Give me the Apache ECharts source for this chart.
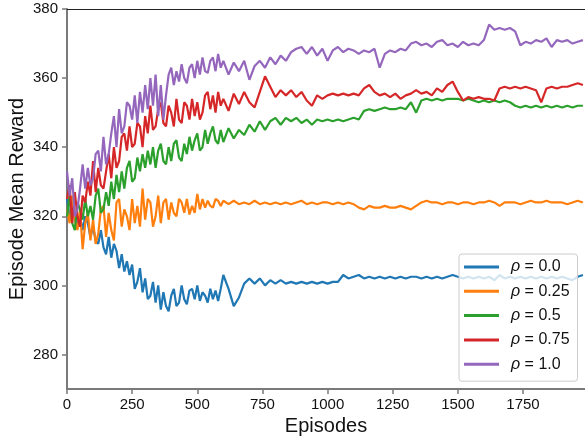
<!DOCTYPE html>
<html>
<head>
<meta charset="utf-8">
<script src="https://cdn.jsdelivr.net/npm/echarts@6/dist/echarts.min.js"></script>
<style>
html, body { margin: 0; padding: 0; background: #fff; }
#chart { width: 585px; height: 441px; }
</style>
</head>
<body>
<div id="chart"></div>
<script>
// episodes: every 10 up to 590 (noisy start), then every 20
var episodes = [];
for (var e = 0; e < 600; e += 10) episodes.push(e);
for (var e2 = 600; e2 <= 1980; e2 += 20) episodes.push(e2);

var rhoNames = ['ρ = 0.0', 'ρ = 0.25', 'ρ = 0.5', 'ρ = 0.75', 'ρ = 1.0'];
var colors = ['#1f77b4', '#ff7f0e', '#2ca02c', '#d62728', '#9467bd'];
var xTicks = [0, 250, 500, 750, 1000, 1250, 1500, 1750];
var yTicks = [280, 300, 320, 340, 360, 380];

var rho00 = [
    // 0..590 step 10
    325, 320, 322, 321, 317, 320, 316, 320, 318, 314,
    317, 313, 312, 316, 311, 309, 314, 308, 312, 310,
    305, 309, 304, 307, 303, 306, 299, 301, 305, 298,
    302, 296, 297, 301, 295, 300, 293, 298, 294, 292.5,
    297, 299, 294, 295, 300, 296, 294.5, 298.5, 299, 296,
    300, 295.5, 298, 297, 295, 299, 296, 298.5, 295.5, 299,
    // 600..1980 step 20
    303, 299, 294, 296.5, 300.5, 302, 300.5, 302, 300, 301.5,
    300.5, 301.5, 300.5, 301, 300.5, 301, 300.5, 301, 300.5, 301,
    300.5, 301, 301, 303, 302, 302.5, 303, 302, 302.5, 302,
    302.5, 302, 302.5, 302, 302.5, 302, 302.5, 302.5, 302, 302.5,
    302, 302.5, 302, 302.5, 303, 302.5, 302, 302.5, 302, 302.5,
    302, 302.5, 301.5, 303, 302, 302.5, 302, 302.5, 302, 302.5,
    302, 302.5, 302, 302.5, 302, 302.5, 302, 301.5, 302.5, 303
];
var rho025 = [
    322, 318, 326, 319, 316, 322, 310.5, 318, 321, 313,
    319, 312, 315, 322, 323, 314, 321, 316, 313, 324,
    325, 317, 322, 320, 316, 325, 318, 323, 317, 328,
    319, 325, 324, 317, 320, 326, 318, 324, 325, 319,
    324, 321, 320, 325, 324, 321, 325, 320.5, 323, 321,
    326.5, 322, 325, 322.5, 324.5, 323, 322.5, 325, 324.5, 323,
    324.5, 323.5, 324.5, 323.5, 324, 323.5, 324.5, 323.5, 324, 323.5,
    324, 323.5, 324, 323.5, 324, 324.5, 323.5, 324, 323.5, 324,
    324, 323.5, 324, 323.5, 324, 323.5, 322.5, 322, 323, 322.5,
    322.5, 323, 322.5, 322.5, 323, 322.5, 322, 323, 324, 324.5,
    324, 324, 323.5, 324, 324, 323.5, 324, 324, 323.5, 324,
    324, 324.5, 324, 323, 324, 324, 324, 323.5, 324, 324.5,
    324, 324, 324.5, 324, 324, 324, 323.5, 324, 324.5, 324
];
var rho05 = [
    320, 326, 318, 316, 324, 322, 319, 325, 320, 323,
    319, 326, 328, 321, 322, 327, 323, 330, 325, 332,
    327, 333, 328, 334, 336, 330, 331, 337, 333, 338,
    334, 339, 335, 340, 334, 339, 341, 336, 335, 340,
    336, 341, 342, 337, 336, 341, 338, 343, 339, 342,
    344, 339, 340, 345, 341, 344, 346, 342, 341, 345,
    341.5, 345.5, 342.5, 345, 343.5, 346.5, 344.5, 347.5, 345, 347.5,
    348.5, 346.5, 348.5, 347.5, 348.5, 347, 348, 346.5, 348, 347.5,
    348, 347.5, 348, 347.5, 348, 348.5, 348, 350.5, 351, 350.5,
    351, 351.5, 351, 351, 351.5, 351, 353, 350, 353.5, 354,
    353.5, 354, 353.5, 354, 354, 354, 353.5, 354, 353.5, 353,
    353.5, 353, 353.5, 353, 353.5, 353, 352, 351.5, 352, 351.5,
    352, 351.5, 352, 351.5, 352, 351.5, 352, 351.5, 352, 352
];
var rho075 = [
    325, 329, 318, 327, 320, 317, 326, 324, 330, 326,
    336, 327, 334, 329, 328, 333, 338, 331, 340, 334,
    336, 343, 344, 339, 346, 340, 341, 347, 346, 340,
    349, 344, 352, 345, 346, 351, 353, 347, 346, 352,
    350, 346, 354, 348, 347, 353, 352, 348, 354, 349,
    353, 348, 350, 355, 356, 351, 355, 350, 356, 352,
    354, 350.5, 355.5, 352.5, 356, 353, 351.5, 356, 360.5, 357.5,
    354.5, 356.5, 355, 356.5, 354.5, 356, 353.5, 352, 355, 354,
    355, 355.5, 355, 355.5, 355, 355.5, 355, 357, 358, 356,
    355, 355.5, 354.5, 355.5, 354, 355, 355.5, 356.5, 355.5, 356,
    355, 357, 356, 358, 359, 356, 353.5, 354.5, 354, 354.5,
    354, 354, 353.5, 357, 357.5, 357, 357.5, 357, 357.5, 357,
    356.5, 353, 357, 357.5, 357, 357.5, 357.5, 358, 358.5, 358
];
var rho10 = [
    333, 326, 331, 320, 322, 328, 335, 328, 334, 329,
    331, 338, 339, 333, 343, 335, 338, 344, 349, 340,
    351, 344, 346, 353, 352, 348, 355, 347, 356, 350,
    358, 351, 360, 352, 361, 349, 358, 348, 355, 361,
    363, 358, 362, 359, 364, 360, 358.5, 363, 364, 360,
    365, 361, 366, 362, 361.5, 365, 366, 362, 367, 363,
    365, 361, 364.5, 362, 365, 359.5, 363.5, 365, 363, 366,
    364, 366.5, 365, 367.5, 368.5, 369, 367, 369, 366.5, 368.5,
    365, 368, 369, 367.5, 368.5, 368, 367, 368, 367.5, 368.5,
    363, 367, 368, 367.5, 368.5, 368, 370, 370.5, 369.5, 370,
    369, 370.5, 371, 369.5, 370, 369, 370.5, 369.5, 370, 369.5,
    371, 375.5, 374, 374.5, 374, 374.5, 373.5, 369.5, 370.5, 370,
    371, 370.5, 371.5, 369, 371, 370.5, 371, 370, 370.5, 371
];

var allData = [rho00, rho025, rho05, rho075, rho10];

function toPairs(arr) {
    return arr.map(function (v, i) { return [episodes[i], v]; });
}

var myChart = echarts.init(document.getElementById('chart'), null, { renderer: 'canvas' });

var spineColor = '#7a7a7a';
var txtFont = 'Liberation Sans, Arial, sans-serif';

var series = allData.map(function (arr, i) {
    return {
        name: rhoNames[i],
        type: 'line',
        data: toPairs(arr),
        showSymbol: false,
        symbol: 'none',
        lineStyle: { width: 2.2, color: colors[i] },
        itemStyle: { color: colors[i] },
        z: 2 + i
    };
});

var option = {
    animation: false,
    backgroundColor: '#fff',
    textStyle: { fontFamily: txtFont },
    grid: { left: 67, top: 9, right: 0, bottom: 52, containLabel: false, outerBoundsMode: 'none' },
    legend: {
        data: rhoNames,
        orient: 'vertical',
        left: 459,
        top: 254,
        padding: [5, 8, 9, 5],
        itemWidth: 35,
        itemHeight: 3,
        itemGap: 8.3,
        icon: 'rect',
        backgroundColor: 'rgba(255,255,255,0.8)',
        borderColor: '#cccccc',
        borderWidth: 1,
        borderRadius: 3,
        z: 10,
        formatter: function (name) {
            return '{r|ρ}{t|' + name.slice(1) + '}';
        },
        textStyle: {
            fontFamily: txtFont,
            fontSize: 16,
            color: '#111',
            lineHeight: 16,
            rich: {
                r: { fontStyle: 'italic', fontSize: 16, fontFamily: txtFont, padding: [0, 0, 0, 7], color: '#111' },
                t: { fontSize: 16, fontFamily: txtFont, color: '#111' }
            }
        }
    },
    xAxis: [{
        type: 'value',
        min: 0,
        max: 1988,
        interval: 250,
        name: 'Episodes',
        nameLocation: 'middle',
        nameGap: 27,
        nameTextStyle: { fontSize: 20, color: '#111', fontFamily: txtFont },
        splitLine: { show: false },
        axisLine: { onZero: false, lineStyle: { color: spineColor, width: 2 } },
        axisTick: { inside: false, length: 5, customValues: xTicks, lineStyle: { color: spineColor, width: 1.5 } },
        axisLabel: {
            customValues: xTicks,
            fontSize: 15,
            color: '#111',
            margin: 8,
            formatter: function (v) { return String(v); }
        }
    }, {
        type: 'value',
        position: 'top',
        min: 0,
        max: 1988,
        splitLine: { show: false },
        axisLine: { show: true, onZero: false, lineStyle: { color: '#222', width: 1.2 } },
        axisTick: { show: false },
        axisLabel: { show: false }
    }],
    yAxis: {
        type: 'value',
        min: 270,
        max: 380,
        interval: 10,
        name: 'Episode Mean Reward',
        nameLocation: 'middle',
        nameGap: 40,
        nameMoveOverlap: false,
        nameTextStyle: { fontSize: 20, color: '#111', fontFamily: txtFont },
        splitLine: { show: false },
        axisLine: { show: true, onZero: false, lineStyle: { color: spineColor, width: 2 } },
        axisTick: { show: true, inside: false, length: 5, customValues: yTicks, lineStyle: { color: spineColor, width: 1.5 } },
        axisLabel: {
            customValues: yTicks,
            fontSize: 15,
            color: '#111',
            margin: 9
        }
    },
    series: series
};

myChart.setOption(option);
</script>
</body>
</html>
